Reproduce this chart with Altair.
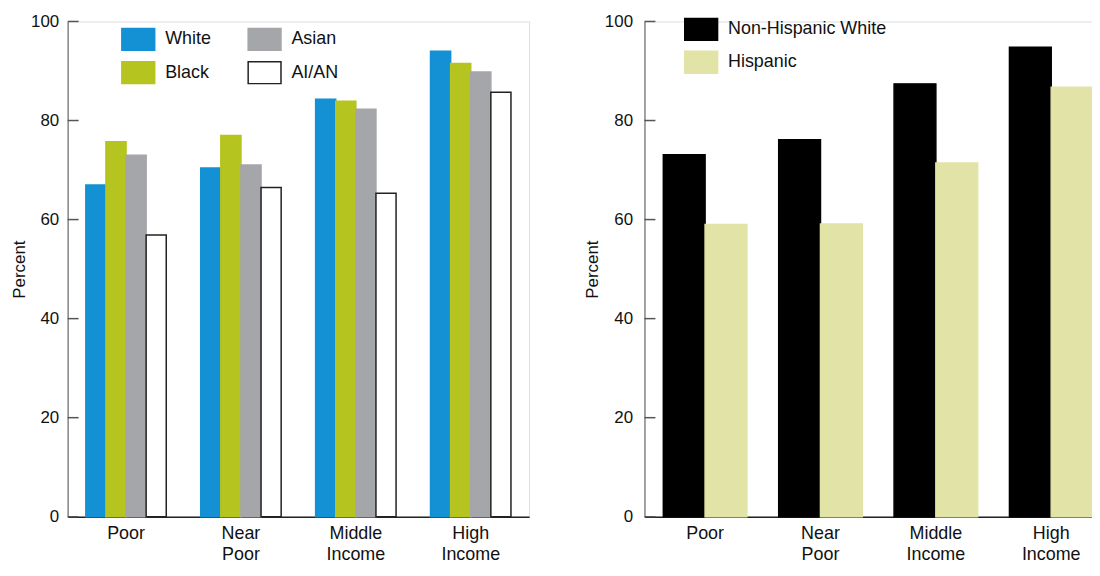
import altair as alt
import pandas as pd

categories = ["Poor", "Near Poor", "Middle Income", "High Income"]

# Left panel
left_groups = ["White", "Black", "Asian", "AI/AN"]
white = [67.0, 70.4, 84.3, 94.0]
black = [75.7, 77.0, 83.9, 91.5]
asian = [73.0, 71.0, 82.3, 89.8]
aian = [56.9, 66.5, 65.3, 85.7]

# Right panel
right_groups = ["Non-Hispanic White", "Hispanic"]
nhw = [73.1, 76.1, 87.4, 94.8]
hispanic = [59.0, 59.1, 71.4, 86.7]

tick_values = [0, 20, 40, 60, 80, 100]

FONT = "Liberation Sans"
SWATCH = "M-1.5,-1L1.5,-1L1.5,1L-1.5,1Z"


def make_df(groups, series):
    rows = []
    for g, vals in zip(groups, series):
        for c, v in zip(categories, vals):
            rows.append({"cat": c, "group": g, "value": v})
    return pd.DataFrame(rows)


left_df = make_df(left_groups, [white, black, asian, aian])
right_df = make_df(right_groups, [nhw, hispanic])
ticks_df = pd.DataFrame({"t": tick_values})


def panel(df, groups, fills, strokes, width, height, p_in, p_out, align,
          leg_x, leg_y, columns, col_pad, row_pad, label_pad_y):
    legend = alt.Legend(
        orient="none", legendX=leg_x, legendY=leg_y, columns=columns,
        columnPadding=col_pad, rowPadding=row_pad, padding=0, title=None,
        symbolType=SWATCH, symbolSize=484, symbolStrokeWidth=1.5,
        labelFontSize=18, labelOffset=15, labelFont=FONT, labelColor="#111",
        symbolOpacity=1, values=groups,
    )
    yscale = alt.Scale(domain=[0, 100], nice=False)
    bars = alt.Chart(df).mark_bar(strokeWidth=1.5).encode(
        x=alt.X("cat:N", sort=categories,
                scale=alt.Scale(paddingInner=p_in, paddingOuter=p_out, align=align),
                axis=alt.Axis(title=None, labelAngle=0, labelExpr="split(datum.label, ' ')",
                              ticks=False, domainColor="#222", domainWidth=1.5,
                              labelFontSize=18, labelFont=FONT, labelColor="#111",
                              labelPadding=8, labelLineHeight=21, labelBaseline="top")),
        xOffset=alt.XOffset("group:N", sort=groups,
                            scale=alt.Scale(paddingInner=0, paddingOuter=0)),
        y=alt.Y("value:Q", scale=yscale,
                axis=alt.Axis(values=tick_values, title="Percent", grid=False, ticks=False,
                              domainColor="#888", domainWidth=1.5,
                              labelFontSize=17, labelFont=FONT, labelColor="#111",
                              labelPadding=label_pad_y,
                              titleFontSize=17, titleFont=FONT, titleFontWeight="normal",
                              titleColor="#111", titlePadding=2.5)),
        color=alt.Color("group:N", scale=alt.Scale(domain=groups, range=fills),
                        legend=legend),
        stroke=alt.Stroke("group:N", scale=alt.Scale(domain=groups, range=strokes),
                          legend=legend),
    )
    tick_marks = alt.Chart(ticks_df).mark_rule(color="#555", strokeWidth=1.5).encode(
        y=alt.Y("t:Q", scale=yscale),
        x=alt.value(0), x2=alt.value(11),
    )
    return alt.layer(bars, tick_marks).properties(width=width, height=height)


BLUE = "#1490d4"
YELLOW = "#b5c41e"
GRAY = "#a5a6aa"
left = panel(
    left_df, left_groups,
    fills=[BLUE, YELLOW, GRAY, "#ffffff"],
    strokes=[BLUE, YELLOW, GRAY, "#222222"],
    width=464, height=498, p_in=0.30, p_out=0.158, align=0.5,
    leg_x=59, leg_y=6, columns=2, col_pad=33, row_pad=5.5, label_pad_y=9,
)
right = panel(
    right_df, right_groups,
    fills=["#000000", "#e1e4a6"],
    strokes=["#000000", "#e1e4a6"],
    width=452, height=498, p_in=0.276, p_out=0.086, align=0.95,
    leg_x=45, leg_y=-4, columns=1, col_pad=0, row_pad=5, label_pad_y=12,
)

chart = alt.hconcat(left, right, spacing=53).resolve_scale(
    color="independent", stroke="independent", x="independent", y="independent",
    xOffset="independent"
).resolve_legend(color="independent", stroke="independent").properties(
    padding={"left": 1, "top": 2, "right": -3, "bottom": 0}
).configure_view(
    stroke=None
).configure(background="white")

chart.save("out.html", embed_options={"renderer": "svg", "actions": False})
